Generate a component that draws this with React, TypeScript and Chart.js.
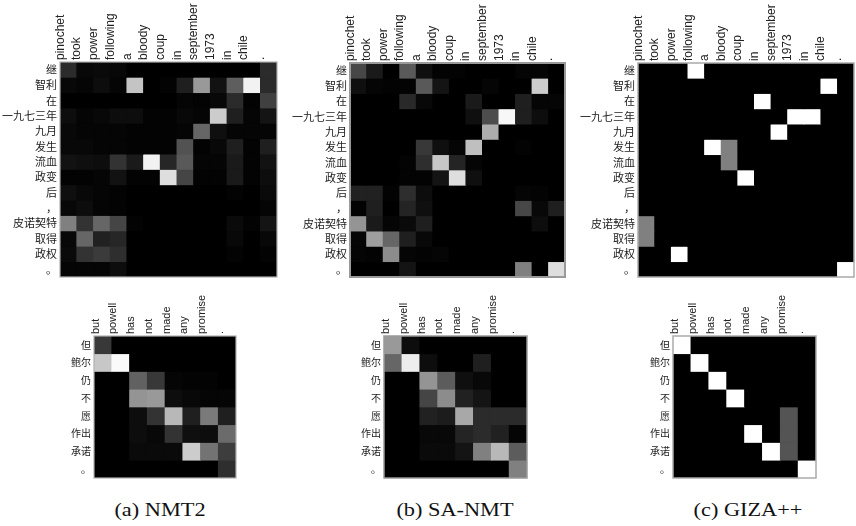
import React, { useEffect, useRef } from "react";
import { Chart, registerables } from "chart.js";

Chart.register(...registerables);

// ---------- DATA ----------
const topSource = ["pinochet", "took", "power", "following", "a", "bloody", "coup", "in", "september", "1973", "in", "chile", "."];
const topTarget = ["继", "智利", "在", "一九七三年", "九月", "发生", "流血", "政变", "后", "，", "皮诺契特", "取得", "政权", "。"];
const bottomSource = ["but", "powell", "has", "not", "made", "any", "promise", "."];
const bottomTarget = ["但", "鲍尔", "仍", "不", "愿", "作出", "承诺", "。"];

const nmt2Top = [
  [0.17, 0.03, 0.04, 0.03, 0, 0, 0, 0, 0, 0, 0, 0, 0.17],
  [0.03, 0.02, 0.05, 0.02, 0.77, 0, 0.01, 0.12, 0.6, 0.07, 0.37, 0.95, 0.17],
  [0, 0, 0, 0, 0, 0, 0, 0.02, 0.01, 0.03, 0.17, 0.01, 0.25],
  [0.05, 0.02, 0.03, 0.05, 0.05, 0.01, 0.01, 0.03, 0.02, 0.8, 0.12, 0.02, 0.08],
  [0.03, 0.02, 0.02, 0.02, 0.01, 0.01, 0.01, 0.02, 0.4, 0.06, 0.02, 0.02, 0.02],
  [0.03, 0.03, 0.02, 0.02, 0.01, 0.01, 0.01, 0.32, 0.01, 0.03, 0.12, 0.01, 0.12],
  [0.07, 0.06, 0.05, 0.2, 0.1, 0.95, 0.15, 0.35, 0.02, 0.02, 0.1, 0.01, 0.07],
  [0.01, 0.01, 0.02, 0.07, 0.01, 0.01, 0.87, 0.27, 0.01, 0.01, 0.1, 0.01, 0.05],
  [0.06, 0.03, 0.02, 0.01, 0, 0, 0, 0, 0, 0, 0.01, 0, 0.04],
  [0.03, 0.05, 0.02, 0.01, 0, 0, 0, 0, 0, 0, 0, 0, 0.02],
  [0.5, 0.2, 0.4, 0.27, 0.01, 0, 0, 0, 0, 0, 0.04, 0.01, 0.08],
  [0.03, 0.4, 0.13, 0.15, 0, 0, 0, 0, 0, 0, 0.03, 0, 0.03],
  [0.04, 0.2, 0.23, 0.18, 0, 0, 0, 0, 0, 0, 0.01, 0, 0.01],
  [0.02, 0.02, 0.02, 0.05, 0, 0, 0, 0, 0, 0, 0, 0, 0],
];

const saNmtTop = [
  [0.28, 0.1, 0, 0.35, 0.06, 0.01, 0.01, 0, 0, 0, 0.02, 0.02, 0],
  [0.06, 0.02, 0.01, 0.01, 0.35, 0.08, 0, 0, 0.02, 0, 0, 0.8, 0],
  [0, 0, 0, 0.16, 0.03, 0, 0, 0.1, 0, 0, 0.12, 0.02, 0.02],
  [0, 0, 0, 0, 0, 0, 0, 0.06, 0.3, 0.97, 0.12, 0.05, 0],
  [0, 0, 0, 0, 0, 0, 0, 0, 0.68, 0, 0, 0, 0],
  [0, 0, 0, 0, 0.22, 0.06, 0.02, 0.75, 0, 0, 0.01, 0, 0],
  [0, 0, 0, 0.01, 0.18, 0.78, 0.14, 0.02, 0, 0, 0, 0, 0],
  [0, 0, 0, 0.01, 0.01, 0.08, 0.87, 0.06, 0, 0, 0, 0, 0],
  [0.13, 0.13, 0.01, 0.18, 0.05, 0, 0, 0, 0, 0, 0.02, 0.01, 0],
  [0.01, 0.12, 0, 0.14, 0.06, 0, 0, 0, 0, 0, 0.28, 0.03, 0.12],
  [0.58, 0.1, 0.02, 0.04, 0.12, 0, 0, 0, 0, 0, 0, 0.05, 0],
  [0.02, 0.62, 0.4, 0.12, 0.03, 0, 0, 0, 0, 0, 0, 0, 0],
  [0.02, 0.01, 0.55, 0.02, 0.01, 0.02, 0, 0, 0, 0, 0, 0, 0],
  [0, 0, 0, 0.08, 0, 0, 0, 0, 0, 0, 0.5, 0, 0.87],
];

const gizaTop = [
  [0, 0, 0, 1, 0, 0, 0, 0, 0, 0, 0, 0, 0],
  [0, 0, 0, 0, 0, 0, 0, 0, 0, 0, 0, 1, 0],
  [0, 0, 0, 0, 0, 0, 0, 1, 0, 0, 0, 0, 0],
  [0, 0, 0, 0, 0, 0, 0, 0, 0, 1, 1, 0, 0],
  [0, 0, 0, 0, 0, 0, 0, 0, 1, 0, 0, 0, 0],
  [0, 0, 0, 0, 1, 0.5, 0, 0, 0, 0, 0, 0, 0],
  [0, 0, 0, 0, 0, 0.5, 0, 0, 0, 0, 0, 0, 0],
  [0, 0, 0, 0, 0, 0, 1, 0, 0, 0, 0, 0, 0],
  [0, 0, 0, 0, 0, 0, 0, 0, 0, 0, 0, 0, 0],
  [0, 0, 0, 0, 0, 0, 0, 0, 0, 0, 0, 0, 0],
  [0.5, 0, 0, 0, 0, 0, 0, 0, 0, 0, 0, 0, 0],
  [0.5, 0, 0, 0, 0, 0, 0, 0, 0, 0, 0, 0, 0],
  [0, 0, 1, 0, 0, 0, 0, 0, 0, 0, 0, 0, 0],
  [0, 0, 0, 0, 0, 0, 0, 0, 0, 0, 0, 0, 1],
];

const nmt2Bottom = [
  [0.22, 0, 0, 0, 0, 0, 0, 0],
  [0.78, 0.98, 0, 0, 0, 0, 0, 0],
  [0, 0, 0.38, 0.22, 0.02, 0.01, 0.01, 0],
  [0, 0, 0.58, 0.6, 0.05, 0.03, 0.02, 0.02],
  [0, 0, 0.05, 0.2, 0.72, 0.12, 0.48, 0.12],
  [0, 0, 0.05, 0.03, 0.2, 0.06, 0.05, 0.42],
  [0, 0, 0.04, 0.04, 0.04, 0.8, 0.45, 0.24],
  [0, 0, 0, 0, 0, 0, 0, 0.18],
];

const saNmtBottom = [
  [0.6, 0.05, 0, 0, 0, 0, 0, 0],
  [0.4, 0.93, 0.05, 0, 0, 0.12, 0, 0],
  [0, 0, 0.58, 0.36, 0.06, 0.03, 0, 0],
  [0, 0, 0.27, 0.55, 0.13, 0.08, 0, 0],
  [0, 0, 0.13, 0.11, 0.66, 0.17, 0.17, 0.17],
  [0, 0, 0.03, 0.03, 0.14, 0.17, 0.13, 0.02],
  [0, 0, 0.04, 0.04, 0.08, 0.5, 0.72, 0.36],
  [0, 0, 0, 0, 0, 0, 0, 0.5],
];

const gizaBottom = [
  [1, 0, 0, 0, 0, 0, 0, 0],
  [0, 1, 0, 0, 0, 0, 0, 0],
  [0, 0, 1, 0, 0, 0, 0, 0],
  [0, 0, 0, 1, 0, 0, 0, 0],
  [0, 0, 0, 0, 0, 0, 0.33, 0],
  [0, 0, 0, 0, 1, 0, 0.33, 0],
  [0, 0, 0, 0, 0, 1, 0.33, 0],
  [0, 0, 0, 0, 0, 0, 0, 1],
];

const captions = ["(a) NMT2", "(b) SA-NMT", "(c) GIZA++"];

// ---------- RENDERING ----------
const SANS = "'Liberation Sans', 'Noto Sans CJK SC', sans-serif";
const CJK = "'Noto Sans CJK SC', 'Liberation Sans', sans-serif";

const gray = (v: number) => {
  const g = Math.round(Math.max(0, Math.min(1, v)) * 255);
  return `rgb(${g},${g},${g})`;
};

const framePlugin = {
  id: "frame",
  beforeDatasetsDraw(chart: any) {
    const { ctx, chartArea: a } = chart;
    ctx.save();
    ctx.fillStyle = "#000";
    ctx.fillRect(a.left, a.top, a.right - a.left, a.bottom - a.top);
    ctx.restore();
  },
  afterDatasetsDraw(chart: any, _args: any, opts: any) {
    const { ctx, chartArea: a } = chart;
    ctx.save();
    ctx.strokeStyle = opts.color || "#aaa";
    ctx.lineWidth = opts.width || 1;
    ctx.strokeRect(a.left, a.top, a.right - a.left, a.bottom - a.top);
    ctx.restore();
  },
};

type HMProps = {
  left: number; top: number; width: number; height: number;
  cols: string[]; rows: string[]; values: number[][];
  yw: number; xh: number; padR: number; padB: number;
  xFont: number; yFont: number; xShift: number; frameColor: string; frameWidth: number;
};

function Heatmap(p: HMProps) {
  const ref = useRef<HTMLCanvasElement>(null);
  useEffect(() => {
    if (!ref.current) return;
    const datasets = p.rows.map((_, r) => ({
      data: p.cols.map(() => [r, r + 1]),
      backgroundColor: p.values[r].map(gray),
      borderWidth: 0,
      grouped: false,
      barPercentage: 1,
      categoryPercentage: 1,
      xAxisID: "x",
      yAxisID: "y",
    }));
    const chart = new Chart(ref.current, {
      type: "bar",
      data: { labels: p.cols, datasets: datasets as any },
      options: {
        animation: false,
        responsive: false,
        events: [],
        layout: { padding: { left: 0, top: 0, right: p.padR, bottom: p.padB } },
        plugins: {
          legend: { display: false },
          tooltip: { enabled: false },
          frame: { color: p.frameColor, width: p.frameWidth },
        } as any,
        scales: {
          x: {
            type: "category",
            position: "top",
            offset: true,
            grid: { display: false, drawTicks: false },
            border: { display: false },
            ticks: {
              minRotation: 90,
              maxRotation: 90,
              autoSkip: false,
              padding: 2,
              labelOffset: p.xShift,
              color: "#222",
              font: { family: SANS, size: p.xFont },
            },
            afterFit: (s: any) => {
              s.height = p.xh;
              s.paddingLeft = 0;
              s.paddingRight = 0;
            },
          },
          y: {
            type: "linear",
            display: false,
            min: 0,
            max: p.rows.length,
            reverse: true,
          },
          yl: {
            type: "category",
            axis: "y",
            position: "left",
            labels: p.rows,
            offset: true,
            grid: { display: false, drawTicks: false },
            border: { display: false },
            ticks: {
              autoSkip: false,
              padding: 3,
              color: "#222",
              font: { family: CJK, size: p.yFont },
            },
            afterFit: (s: any) => {
              s.width = p.yw;
              s.paddingTop = 0;
              s.paddingBottom = 0;
            },
          },
        } as any,
      },
      plugins: [framePlugin],
    });
    return () => chart.destroy();
  }, []);
  return (
    <canvas
      ref={ref}
      width={p.width}
      height={p.height}
      style={{ position: "absolute", left: p.left, top: p.top, width: p.width, height: p.height }}
    />
  );
}

function Caption({ text, cx }: { text: string; cx: number }) {
  return (
    <div
      style={{
        position: "absolute",
        left: cx - 100,
        top: 501,
        width: 200,
        textAlign: "center",
        fontFamily: "'Liberation Serif', serif",
        fontSize: 18,
        lineHeight: "18px",
        color: "#111",
        transform: "scaleX(1.24)",
        transformOrigin: "center",
        whiteSpace: "nowrap",
      }}
    >
      {text}
    </div>
  );
}

export default function App() {
  return (
    <div style={{ position: "absolute", left: 0, top: 0, width: 856, height: 526, background: "#fff", overflow: "hidden" }}>
      <Heatmap left={0} top={0} width={280} height={280} cols={topSource} rows={topTarget} values={nmt2Top}
        yw={60} xh={62} padR={3} padB={3} xFont={12} yFont={11} xShift={6.5} frameColor="#b0b0b0" frameWidth={1.2} />
      <Heatmap left={290} top={0} width={280} height={280} cols={topSource} rows={topTarget} values={saNmtTop}
        yw={60} xh={63} padR={5} padB={3} xFont={12} yFont={11} xShift={6.5} frameColor="#999" frameWidth={2} />
      <Heatmap left={578} top={0} width={278} height={280} cols={topSource} rows={topTarget} values={gizaTop}
        yw={60} xh={63} padR={2} padB={3} xFont={12} yFont={11} xShift={6.5} frameColor="#aaa" frameWidth={1.5} />

      <Heatmap left={30} top={280} width={210} height={202} cols={bottomSource} rows={bottomTarget} values={nmt2Bottom}
        yw={64} xh={56} padR={4} padB={4} xFont={11} yFont={10} xShift={6} frameColor="#b0b0b0" frameWidth={1.2} />
      <Heatmap left={320} top={280} width={210} height={202} cols={bottomSource} rows={bottomTarget} values={saNmtBottom}
        yw={64} xh={56} padR={3} padB={4} xFont={11} yFont={10} xShift={6} frameColor="#999" frameWidth={1.5} />
      <Heatmap left={610} top={280} width={210} height={202} cols={bottomSource} rows={bottomTarget} values={gizaBottom}
        yw={63} xh={56} padR={4} padB={4} xFont={11} yFont={10} xShift={6} frameColor="#aaa" frameWidth={1.5} />

      <Caption text={captions[0]} cx={160} />
      <Caption text={captions[1]} cx={455} />
      <Caption text={captions[2]} cx={748} />
    </div>
  );
}
